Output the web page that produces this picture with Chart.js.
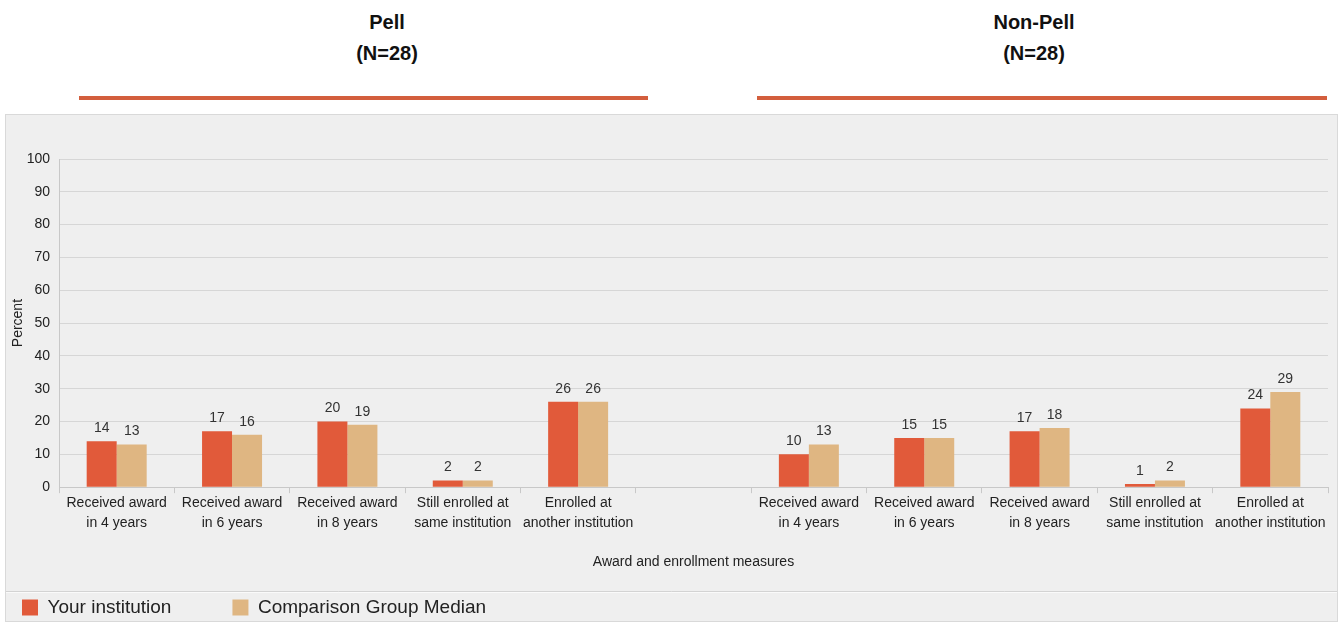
<!DOCTYPE html>
<html>
<head>
<meta charset="utf-8">
<script src="https://cdn.jsdelivr.net/npm/chart.js@4.4.0/dist/chart.umd.min.js"></script>
<style>
  body { margin: 0; background: #fff; width: 1340px; height: 622px; overflow: hidden; position: relative; }
  .head { position: absolute; font-family: "Liberation Sans", Arial, sans-serif; font-weight: bold; font-size: 20px; color: #111; text-align: center; width: 200px; line-height: 31px; }
  .rule { position: absolute; height: 4px; background: #d35e3d; top: 96px; }
  #panel { position: absolute; left: 5px; top: 114px; width: 1333px; height: 508px; background: #efefef; border: 1px solid #d9d9d9; box-sizing: border-box; }
</style>
</head>
<body>
<div class="head" style="left:287px; top:7px;">Pell<br>(N=28)</div>
<div class="head" style="left:934px; top:7px;">Non-Pell<br>(N=28)</div>
<div class="rule" style="left:79px; width:569px;"></div>
<div class="rule" style="left:757px; width:570px;"></div>
<div id="panel"><canvas id="chart" width="1331" height="506"></canvas></div>

<script>
// categories: 5 Pell measures, an empty gap, 5 Non-Pell measures
const categories = [
  ["Received award", "in 4 years"],
  ["Received award", "in 6 years"],
  ["Received award", "in 8 years"],
  ["Still enrolled at", "same institution"],
  ["Enrolled at", "another institution"],
  "",
  ["Received award", "in 4 years"],
  ["Received award", "in 6 years"],
  ["Received award", "in 8 years"],
  ["Still enrolled at", "same institution"],
  ["Enrolled at", "another institution"]
];

const yourInstitution = [14, 17, 20, 2, 26, null, 10, 15, 17, 1, 24];
const comparisonMedian = [13, 16, 19, 2, 26, null, 13, 15, 18, 2, 29];

const yTicks = [0, 10, 20, 30, 40, 50, 60, 70, 80, 90, 100];

const sans = "'Liberation Sans', Arial, sans-serif";

// value labels above each bar
const barLabels = {
  id: "barLabels",
  afterDatasetsDraw(chart) {
    const ctx = chart.ctx;
    ctx.save();
    ctx.font = "14px " + sans;
    ctx.fillStyle = "#333";
    ctx.textAlign = "center";
    ctx.textBaseline = "bottom";
    chart.data.datasets.forEach((ds, i) => {
      chart.getDatasetMeta(i).data.forEach((bar, j) => {
        if (ds.data[j] == null) return;
        ctx.fillText(ds.data[j], bar.x, bar.y - 6);
      });
    });
    ctx.restore();
  }
};

// legend: wider gap between items than its vertical padding, and a rule above it
const legendRule = {
  id: "legendRule",
  afterLayout(chart) {
    const lg = chart.legend;
    const itemTop = lg.top + 16;
    const gap = 61;
    lg.options.labels.padding = gap;
    lg.left = 16 - gap;
    lg.top = itemTop - gap;
  },
  beforeDraw(chart) {
    const ctx = chart.ctx;
    const y = 476.5;
    ctx.save();
    ctx.lineWidth = 1;
    ctx.strokeStyle = "#d3d3d3";
    ctx.beginPath();
    ctx.moveTo(0, y);
    ctx.lineTo(chart.width, y);
    ctx.stroke();
    ctx.strokeStyle = "#fafafa";
    ctx.beginPath();
    ctx.moveTo(0, y + 1);
    ctx.lineTo(chart.width, y + 1);
    ctx.stroke();
    ctx.restore();
  }
};

new Chart(document.getElementById("chart"), {
  type: "bar",
  data: {
    labels: categories,
    datasets: [
      {
        label: "Your institution",
        data: yourInstitution,
        backgroundColor: "#e15a3a",
        barPercentage: 1,
        categoryPercentage: 0.52
      },
      {
        label: "Comparison Group Median",
        data: comparisonMedian,
        backgroundColor: "#dfb682",
        barPercentage: 1,
        categoryPercentage: 0.52
      }
    ]
  },
  options: {
    responsive: false,
    animation: false,
    layout: { padding: { top: 44, right: 9, left: 0, bottom: 0 } },
    plugins: {
      legend: {
        position: "bottom",
        align: "start",
        labels: {
          boxWidth: 16,
          boxHeight: 16,
          padding: 10,
          color: "#222",
          font: { family: sans, size: 19 }
        }
      },
      tooltip: { enabled: false }
    },
    scales: {
      x: {
        grid: {
          offset: true,
          drawOnChartArea: false,
          drawTicks: true,
          tickLength: 6,
          color: "#c8c8c8"
        },
        border: { color: "#c8c8c8" },
        ticks: {
          color: "#222",
          padding: 0,
          maxRotation: 0,
          autoSkip: false,
          font: { family: sans, size: 14, lineHeight: 1.43 }
        },
        title: {
          display: true,
          text: "Award and enrollment measures",
          color: "#222",
          font: { family: sans, size: 14 },
          padding: { top: 21, bottom: 11 }
        }
      },
      y: {
        min: 0,
        max: 100,
        afterBuildTicks(scale) {
          scale.ticks = yTicks.map((v) => ({ value: v }));
        },
        afterFit(scale) {
          scale.width = 53;
        },
        grid: { color: "#d6d6d6", drawTicks: false },
        border: { color: "#c8c8c8" },
        ticks: {
          color: "#222",
          padding: 9,
          font: { family: sans, size: 14 }
        },
        title: {
          display: true,
          text: "Percent",
          color: "#222",
          font: { family: sans, size: 14 },
          padding: { top: 4, bottom: 0 }
        }
      }
    }
  },
  plugins: [barLabels, legendRule]
});
</script>
</body>
</html>
